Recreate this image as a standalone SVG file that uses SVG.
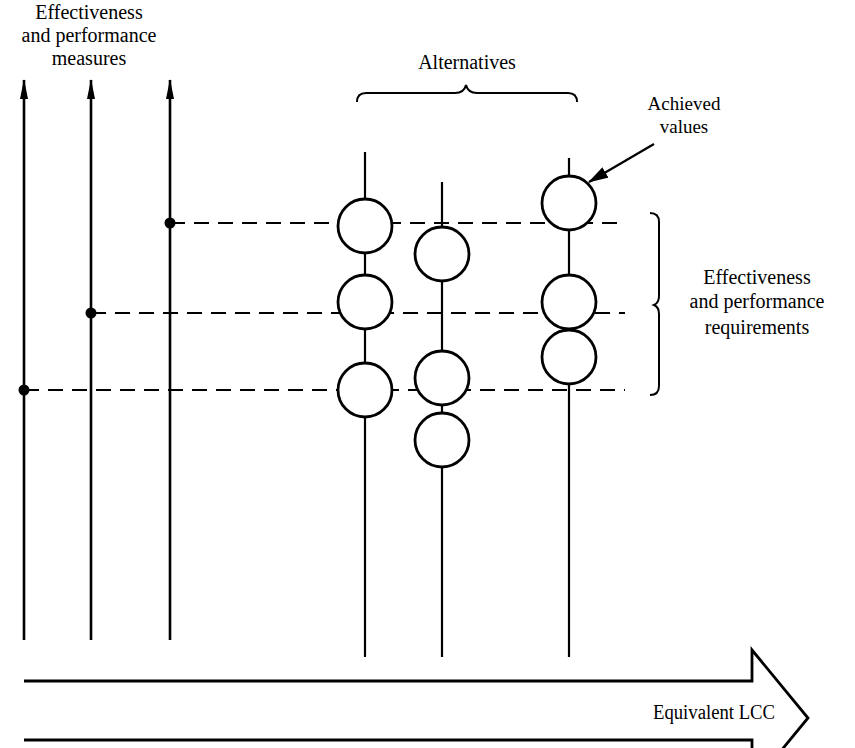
<svg xmlns="http://www.w3.org/2000/svg" width="855" height="748" viewBox="0 0 855 748">
  <defs>
    <marker id="axisHead" viewBox="0 0 20 10" refX="19" refY="5" markerWidth="20" markerHeight="10" markerUnits="userSpaceOnUse" orient="auto">
      <path d="M0,1 L20,5 L0,9 Z" fill="#000"/>
    </marker>
    <marker id="pointer" viewBox="0 0 20 12" refX="19" refY="6" markerWidth="20" markerHeight="12" markerUnits="userSpaceOnUse" orient="auto">
      <path d="M0,0 L20,6 L0,12 Z" fill="#000"/>
    </marker>
  </defs>
  <style>
    .axis { stroke:#000; stroke-width:2.6; fill:none; }
    .stem { stroke:#000; stroke-width:2.2; fill:none; }
    .dash { stroke:#000; stroke-width:2.2; fill:none; stroke-dasharray:15 9; }
    .val { stroke:#000; stroke-width:2.8; fill:#fff; }
    .brace { stroke:#000; stroke-width:2; fill:none; }
    .lbl { font-family:"Liberation Serif","DejaVu Serif",serif; font-size:20px; fill:#000; text-anchor:middle; }
    .small { font-size:19px; }
  </style>
  <rect width="855" height="748" fill="#fff"/>

  <g id="connectors">
    <!-- measure axes -->
    <line class="axis" x1="24" y1="640" x2="24" y2="80" marker-end="url(#axisHead)"/>
    <line class="axis" x1="91" y1="640" x2="91" y2="80" marker-end="url(#axisHead)"/>
    <line class="axis" x1="170" y1="640" x2="170" y2="80" marker-end="url(#axisHead)"/>
    <!-- requirement levels -->
    <line class="dash" x1="170" y1="223" x2="625" y2="223"/>
    <line class="dash" x1="91" y1="313" x2="625" y2="313"/>
    <line class="dash" x1="24" y1="390" x2="625" y2="390"/>
    <!-- alternative stems -->
    <line class="stem" x1="365" y1="152" x2="365" y2="657"/>
    <line class="stem" x1="442" y1="182" x2="442" y2="657"/>
    <line class="stem" x1="569" y1="158" x2="569" y2="657"/>
    <!-- achieved-values pointer -->
    <line class="stem" x1="654" y1="144" x2="589" y2="182" marker-end="url(#pointer)"/>
  </g>

  <g id="requirement-dots">
    <circle cx="170" cy="223" r="5.5" fill="#000"/>
    <circle cx="91" cy="313" r="5.5" fill="#000"/>
    <circle cx="24" cy="390" r="5.5" fill="#000"/>
  </g>

  <g id="alternative-1">
    <circle class="val" cx="365" cy="226" r="27"/>
    <circle class="val" cx="365" cy="302" r="27"/>
    <circle class="val" cx="365" cy="390" r="27"/>
  </g>
  <g id="alternative-2">
    <circle class="val" cx="442" cy="254" r="27"/>
    <circle class="val" cx="442" cy="378" r="27"/>
    <circle class="val" cx="442" cy="440" r="27"/>
  </g>
  <g id="alternative-3">
    <circle class="val" cx="569" cy="203" r="27"/>
    <circle class="val" cx="569" cy="302" r="27"/>
    <circle class="val" cx="569" cy="357" r="27"/>
  </g>

  <g id="measures-label">
    <text class="lbl" x="89" y="19">Effectiveness</text>
    <text class="lbl" x="89" y="42">and performance</text>
    <text class="lbl" x="89" y="65">measures</text>
  </g>

  <g id="alternatives-label">
    <text class="lbl" x="467" y="69">Alternatives</text>
    <path class="brace" d="M357,102 Q357,93 366,93 L455,93 Q464,93 466,85 Q468,93 477,93 L568,93 Q577,93 577,102"/>
  </g>

  <g id="achieved-label">
    <text class="lbl small" x="684" y="110">Achieved</text>
    <text class="lbl small" x="684" y="133">values</text>
  </g>

  <g id="requirements-label">
    <path class="brace" d="M650,213 Q659,213 659,222 L659,296 Q659,303 654,305 Q659,307 659,314 L659,386 Q659,395 650,395"/>
    <text class="lbl" x="757" y="284">Effectiveness</text>
    <text class="lbl" x="757" y="308">and performance</text>
    <text class="lbl" x="757" y="334">requirements</text>
  </g>

  <g id="lcc-arrow">
    <path d="M24,681 L752,681 L752,650 L808,718 L752,786 L752,740 L24,740" fill="none" stroke="#000" stroke-width="2.8" stroke-linejoin="miter"/>
    <text class="lbl" x="714" y="719" textLength="122" lengthAdjust="spacingAndGlyphs">Equivalent LCC</text>
  </g>
</svg>
